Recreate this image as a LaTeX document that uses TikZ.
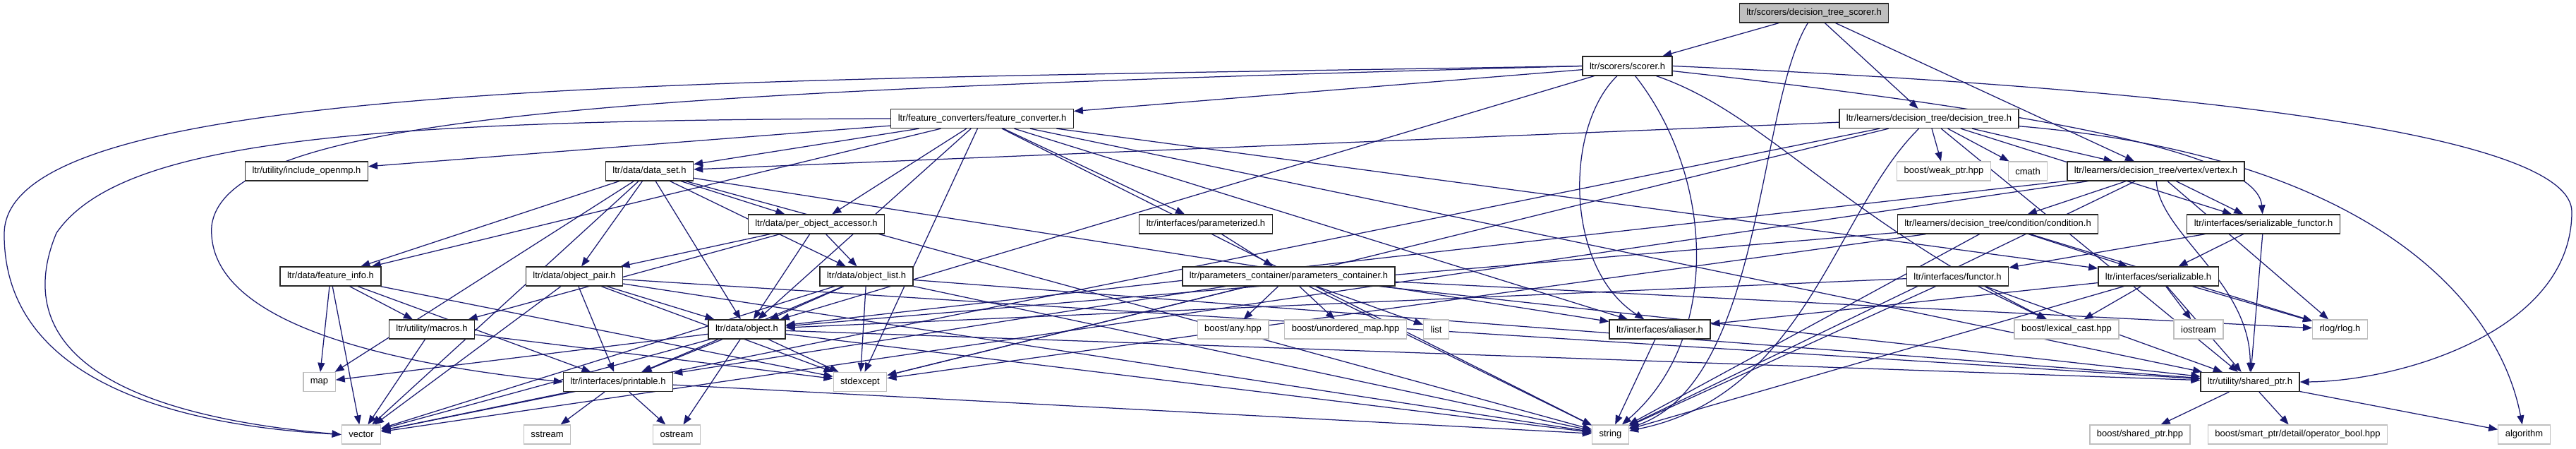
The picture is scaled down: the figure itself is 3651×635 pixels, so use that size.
\documentclass[tikz,border=0pt]{standalone}
\usepackage{fontspec}
\setmainfont{Liberation Sans}
\usetikzlibrary{arrows.meta,backgrounds}
\definecolor{edgeblue}{HTML}{191970}
\definecolor{sysgray}{HTML}{BFBFBF}

\begin{document}
\begin{tikzpicture}[x=1pt,y=-1pt,
  hdr/.style={draw=black!85,fill=white,line width=1.3pt,minimum height=27pt,inner xsep=10pt,inner ysep=0pt,font=\fontsize{13}{15}\selectfont},
  sys/.style={hdr,draw=sysgray},
  root/.style={hdr,fill=sysgray},
  dep/.style={draw=edgeblue,line width=1.25pt,-{Triangle[length=13pt,width=10pt]}}]
\useasboundingbox (0,0) rectangle (3651,635);
\node[root] (dts) at (2571,18.5) {ltr/scorers/decision\_tree\_scorer.h};
\node[hdr] (scorer) at (2306.5,93.5) {ltr/scorers/scorer.h};
\node[hdr] (fconv) at (1392,168) {ltr/feature\_converters/feature\_converter.h};
\node[hdr] (dtree) at (2734,168) {ltr/learners/decision\_tree/decision\_tree.h};
\node[hdr] (openmp) at (434.5,242.5) {ltr/utility/include\_openmp.h};
\node[hdr] (dataset) at (920.5,242.5) {ltr/data/data\_set.h};
\node[sys] (weakptr) at (2755,242.5) {boost/weak\_ptr.hpp};
\node[sys] (cmath) at (2874,242.5) {cmath};
\node[hdr] (vertex) at (3055.5,242.5) {ltr/learners/decision\_tree/vertex/vertex.h};
\node[hdr] (poa) at (1157,317.5) {ltr/data/per\_object\_accessor.h};
\node[hdr] (paramd) at (1709,317.5) {ltr/interfaces/parameterized.h};
\node[hdr] (condition) at (2831.5,317.5) {ltr/learners/decision\_tree/condition/condition.h};
\node[hdr] (sfunctor) at (3208,317.5) {ltr/interfaces/serializable\_functor.h};
\node[hdr] (finfo) at (468.5,391.5) {ltr/data/feature\_info.h};
\node[hdr] (opair) at (814,391.5) {ltr/data/object\_pair.h};
\node[hdr] (olist) at (1228,391.5) {ltr/data/object\_list.h};
\node[hdr] (pcont) at (1826.5,391.5) {ltr/parameters\_container/parameters\_container.h};
\node[hdr] (functor) at (2774.5,391.5) {ltr/interfaces/functor.h};
\node[hdr] (serial) at (3059,391.5) {ltr/interfaces/serializable.h};
\node[hdr] (macros) at (612,466.5) {ltr/utility/macros.h};
\node[hdr] (object) at (1058.5,466.5) {ltr/data/object.h};
\node[sys] (anyhpp) at (1747.5,466.5) {boost/any.hpp};
\node[sys] (umap) at (1907,466.5) {boost/unordered\_map.hpp};
\node[sys] (list) at (2035.5,466.5) {list};
\node[hdr] (aliaser) at (2352.5,466.5) {ltr/interfaces/aliaser.h};
\node[sys] (lexcast) at (2929,466.5) {boost/lexical\_cast.hpp};
\node[sys] (iostream) at (3116,466.5) {iostream};
\node[sys] (rlog) at (3316.5,466.5) {rlog/rlog.h};
\node[sys] (map) at (452.5,541) {map};
\node[hdr] (printable) at (876,541) {ltr/interfaces/printable.h};
\node[sys] (stdexcept) at (1219,541) {stdexcept};
\node[hdr] (shptr) at (3189,541) {ltr/utility/shared\_ptr.h};
\node[sys] (vector) at (512,615.5) {vector};
\node[sys] (sstream) at (775.5,615.5) {sstream};
\node[sys] (ostream) at (959,615.5) {ostream};
\node[sys] (string) at (2282.5,615.5) {string};
\node[sys] (bshptr) at (3033,615.5) {boost/shared\_ptr.hpp};
\node[sys] (opbool) at (3256.5,615.5) {boost/smart\_ptr/detail/operator\_bool.hpp};
\node[sys] (algorithm) at (3577.5,615.5) {algorithm};
\begin{pgfonlayer}{background}
\draw[dep] (dts) -- (scorer);
\draw[dep] (dts) -- (dtree);
\draw[dep] (dts) -- (vertex);
\draw[dep] (dts) .. controls (2490,150) and (2500,540) .. (string);
\draw[dep] (scorer) -- (fconv);
\draw[dep] (scorer.west) .. controls (1000,115) and (10,110) .. (6,330) .. controls (4,560) and (300,605) .. (vector.west);
\draw[dep] (scorer.west) .. controls (900,130) and (320,160) .. (300,320) .. controls (290,470) and (600,520) .. (printable.west);
\draw[dep] (scorer) .. controls (2217,180) and (2217,380) .. (aliaser);
\draw[dep] (scorer) .. controls (2430,250) and (2440,480) .. (string);
\draw[dep] (scorer) .. controls (3000,170) and (3200,230) .. (sfunctor);
\draw[dep] (scorer.east) .. controls (3200,130) and (3645,200) .. (3645,300) .. controls (3645,470) and (3400,540) .. (shptr.east);
\draw[dep] (scorer) .. controls (2500,160) and (2600,300) .. (lexcast);
\draw[dep] (scorer) -- (object);
\draw[dep] (fconv) -- (openmp);
\draw[dep] (fconv) -- (dataset);
\draw[dep] (fconv) -- (poa);
\draw[dep] (fconv) -- (paramd);
\draw[dep] (fconv) -- (object);
\draw[dep] (fconv) -- (finfo);
\draw[dep] (fconv.west) .. controls (500,170) and (170,200) .. (80,330) .. controls (30,450) and (80,580) .. (vector.west);
\draw[dep] (fconv) -- (string);
\draw[dep] (fconv) -- (stdexcept);
\draw[dep] (fconv) -- (aliaser);
\draw[dep] (fconv) -- (serial);
\draw[dep] (fconv) -- (shptr);
\draw[dep] (dtree) -- (dataset);
\draw[dep] (dtree) -- (vertex);
\draw[dep] (dtree) -- (weakptr);
\draw[dep] (dtree) -- (cmath);
\draw[dep] (dtree) .. controls (2600,300) and (2560,560) .. (string);
\draw[dep] (dtree) -- (stdexcept);
\draw[dep] (dtree) -- (shptr);
\draw[dep] (dtree) .. controls (3350,220) and (3540,420) .. (algorithm);
\draw[dep] (dtree) -- (sfunctor);
\draw[dep] (dtree) -- (vector);
\draw[dep] (vertex) -- (condition);
\draw[dep] (vertex) -- (sfunctor);
\draw[dep] (vertex) .. controls (3060,330) and (3190,400) .. (shptr);
\draw[dep] (vertex) -- (rlog);
\draw[dep] (vertex) -- (string);
\draw[dep] (vertex) -- (object);
\draw[dep] (vertex) -- (vector);
\draw[dep] (dataset) -- (poa);
\draw[dep] (dataset) -- (opair);
\draw[dep] (dataset) -- (object);
\draw[dep] (dataset) -- (finfo);
\draw[dep] (dataset) -- (olist);
\draw[dep] (dataset) -- (vector);
\draw[dep] (dataset) -- (map);
\draw[dep] (dataset) -- (string);
\draw[dep] (dataset) -- (aliaser);
\draw[dep] (poa) -- (opair);
\draw[dep] (poa) -- (object);
\draw[dep] (poa) -- (olist);
\draw[dep] (poa) -- (macros);
\draw[dep] (paramd) -- (pcont);
\draw[dep] (condition) -- (serial);
\draw[dep] (condition) -- (string);
\draw[dep] (condition) -- (stdexcept);
\draw[dep] (condition) -- (rlog);
\draw[dep] (condition) -- (object);
\draw[dep] (sfunctor) -- (functor);
\draw[dep] (sfunctor) -- (serial);
\draw[dep] (sfunctor) -- (shptr);
\draw[dep] (finfo) -- (map);
\draw[dep] (finfo) -- (vector);
\draw[dep] (finfo) -- (macros);
\draw[dep] (finfo) -- (printable);
\draw[dep] (finfo) -- (stdexcept);
\draw[dep] (opair) -- (object);
\draw[dep] (opair) -- (printable);
\draw[dep] (opair) -- (vector);
\draw[dep] (opair) -- (string);
\draw[dep] (opair) -- (stdexcept);
\draw[dep] (opair) -- (shptr);
\draw[dep] (olist) -- (object);
\draw[dep] (olist) -- (printable);
\draw[dep] (olist) -- (vector);
\draw[dep] (olist) -- (stdexcept);
\draw[dep] (olist) -- (string);
\draw[dep] (olist) -- (shptr);
\draw[dep] (pcont) -- (anyhpp);
\draw[dep] (pcont) -- (umap);
\draw[dep] (pcont) -- (list);
\draw[dep] (pcont) -- (stdexcept);
\draw[dep] (pcont) -- (string);
\draw[dep] (pcont) -- (shptr);
\draw[dep] (pcont) -- (printable);
\draw[dep] (pcont) -- (rlog);
\draw[dep] (functor) -- (object);
\draw[dep] (functor) -- (lexcast);
\draw[dep] (functor) -- (string);
\draw[dep] (functor) -- (shptr);
\draw[dep] (serial) -- (aliaser);
\draw[dep] (serial) -- (lexcast);
\draw[dep] (serial) -- (iostream);
\draw[dep] (serial) -- (rlog);
\draw[dep] (serial) -- (shptr);
\draw[dep] (serial) -- (string);
\draw[dep] (macros) -- (vector);
\draw[dep] (macros) -- (stdexcept);
\draw[dep] (object) -- (printable);
\draw[dep] (object) -- (vector);
\draw[dep] (object) -- (map);
\draw[dep] (object) -- (ostream);
\draw[dep] (object) -- (string);
\draw[dep] (object) -- (stdexcept);
\draw[dep] (object) -- (shptr);
\draw[dep] (printable) -- (sstream);
\draw[dep] (printable) -- (ostream);
\draw[dep] (printable) -- (vector);
\draw[dep] (printable) -- (string);
\draw[dep] (aliaser) -- (string);
\draw[dep] (shptr) -- (bshptr);
\draw[dep] (shptr) -- (opbool);
\draw[dep] (shptr) -- (algorithm);
\end{pgfonlayer}
\end{tikzpicture}
\end{document}
